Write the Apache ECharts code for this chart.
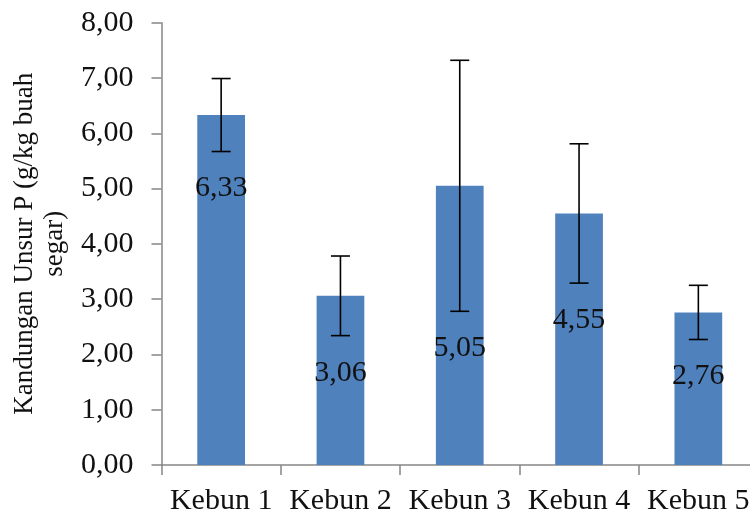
<!DOCTYPE html>
<html>
<head>
<meta charset="utf-8">
<script src="https://cdn.jsdelivr.net/npm/echarts@6/dist/echarts.min.js"></script>
<style>
html,body{margin:0;padding:0;background:#fff;}
#chart{width:750px;height:517px;}
</style>
</head>
<body>
<div id="chart"></div>
<script>
var categories = ['Kebun 1', 'Kebun 2', 'Kebun 3', 'Kebun 4', 'Kebun 5'];
var values = [6.33, 3.06, 5.05, 4.55, 2.76];
var errors = [0.66, 0.72, 2.27, 1.26, 0.49];
var valueLabels = ['6,33', '3,06', '5,05', '4,55', '2,76'];
var yTicks = ['0,00', '1,00', '2,00', '3,00', '4,00', '5,00', '6,00', '7,00', '8,00'];

var FONT = 'Liberation Serif';
var chart = echarts.init(document.getElementById('chart'));

var errData = values.map(function (v, i) { return [i, v - errors[i], v + errors[i], valueLabels[i]]; });

chart.setOption({
  animation: false,
  backgroundColor: '#ffffff',
  grid: { left: 161.5, right: -8, top: 22.7, bottom: 52, containLabel: false, outerBoundsMode: 'none' },
  xAxis: {
    type: 'category',
    data: categories,
    axisLine: { lineStyle: { color: '#868686', width: 1.5 } },
    axisTick: { show: true, length: 10, lineStyle: { color: '#868686', width: 1.5 } },
    axisLabel: { color: '#111', fontFamily: FONT, fontSize: 30, margin: 21, interval: 0, hideOverlap: false }
  },
  yAxis: {
    type: 'value',
    min: 0, max: 8, interval: 1,
    name: 'Kandungan Unsur P (g/kg buah\nsegar)',
    nameLocation: 'middle',
    nameGap: 91,
    nameTextStyle: { color: '#111', fontFamily: FONT, fontSize: 27, lineHeight: 30 },
    axisLine: { show: true, lineStyle: { color: '#868686', width: 1.5 } },
    axisTick: { show: true, length: 10, lineStyle: { color: '#868686', width: 1.5 } },
    splitLine: { show: false },
    axisLabel: {
      color: '#111', fontFamily: FONT, fontSize: 30, margin: 28,
      formatter: function (v) { return yTicks[Math.round(v)]; }
    }
  },
  series: [
    {
      type: 'bar',
      data: values,
      barWidth: '40%',
      itemStyle: { color: '#4F81BD' }
    },
    {
      type: 'custom',
      data: errData,
      z: 10,
      renderItem: function (params, api) {
        var x = api.value(0);
        var lo = api.coord([x, api.value(1)]);
        var hi = api.coord([x, api.value(2)]);
        var cap = 9.5;
        var st = { stroke: '#000', lineWidth: 1.6 };
        return {
          type: 'group',
          children: [
            { type: 'line', shape: { x1: hi[0], y1: hi[1], x2: lo[0], y2: lo[1] }, style: st },
            { type: 'line', shape: { x1: hi[0] - cap, y1: hi[1], x2: hi[0] + cap, y2: hi[1] }, style: st },
            { type: 'line', shape: { x1: lo[0] - cap, y1: lo[1], x2: lo[0] + cap, y2: lo[1] }, style: st },
            { type: 'text', x: lo[0], y: lo[1] + 37,
              style: { text: api.value(3), fill: '#111', font: '30px "Liberation Serif"', align: 'center', verticalAlign: 'middle' } }
          ]
        };
      }
    }
  ]
});
</script>
</body>
</html>
